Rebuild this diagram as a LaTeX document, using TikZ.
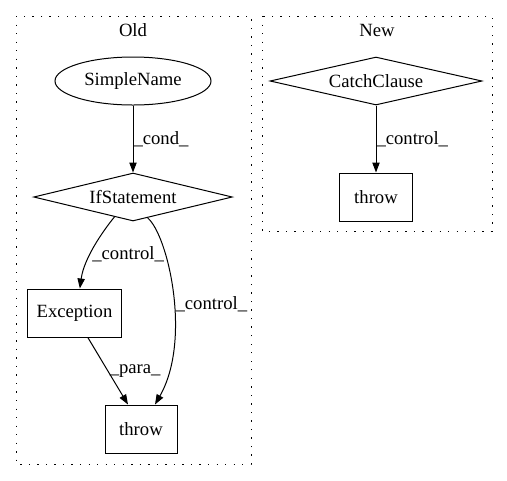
\documentclass[tikz,border=0pt]{standalone}
\usepackage{fontspec}
\setmainfont{Liberation Serif}
\usetikzlibrary{shapes.geometric,arrows.meta}

\tikzset{every picture/.style={line width=0.75pt}}
\tikzset{
  cluster/.style={draw, dash pattern=on 1pt off 5.4pt, line width=0.75pt},
  stmtbox/.style={draw, rectangle, minimum height=36pt, inner sep=0pt},
  condnode/.style={draw, diamond, minimum height=36pt, inner sep=0pt},
  namenode/.style={draw, ellipse, minimum width=117pt, minimum height=36pt, inner sep=0pt},
  edge/.style={-{Triangle[length=7.5pt,width=5.5pt]}},
  elabel/.style={inner sep=1pt},
  every node/.append style={font=\fontsize{14}{16}\selectfont}
}

\begin{document}
\begin{tikzpicture}[x=0.75pt,y=0.75pt,yscale=-1,xscale=1]
	\useasboundingbox (0,0) rectangle (507,480);
	
	%Shape: Cluster Old
	\draw [cluster] (16,16) rectangle (251,464);
	%Shape: Cluster New
	\draw [cluster] (262,16) rectangle (492,231);
	
	% Text Node
	\node (oldlbl) at (133,30) {Old};
	% Text Node
	\node (newlbl) at (377,30) {New};
	
	%Shape: Ellipse
	\node [namenode] (simplename) at (133,81) {SimpleName};
	%Shape: Diamond
	\node [condnode, aspect=4.15, minimum width=149pt] (ifstmt) at (133,197) {IfStatement};
	%Shape: Rectangle
	\node [stmtbox, minimum width=71pt] (exception) at (74.5,313) {Exception};
	%Shape: Rectangle
	\node [stmtbox, minimum width=54pt] (oldthrow) at (141,429) {throw};
	
	%Shape: Diamond
	\node [condnode, aspect=4.4, minimum width=159pt] (catch) at (376,81) {CatchClause};
	%Shape: Rectangle
	\node [stmtbox, minimum width=55pt] (newthrow) at (376,197) {throw};
	
	%Straight Lines
	\draw [edge] (simplename) -- node [elabel, right, inner sep=0pt] {\_cond\_} (ifstmt);
	
	%Curve Lines
	\draw [edge] (ifstmt.227) .. controls (103,231) and (84,258) .. ([xshift=4pt]exception.north)
		node [elabel, right, pos=0.6, xshift=0pt] {\_control\_};
	
	%Curve Lines
	\draw [edge] (ifstmt.305) .. controls (168,235) and (192,340) .. ([xshift=10.5pt]oldthrow.north)
		node [elabel, right, pos=0.55, xshift=0pt] {\_control\_};
	
	%Straight Lines
	\draw [edge] ([xshift=10pt]exception.south) -- node [elabel, right, pos=0.5] {\_para\_} ([xshift=-9.75pt]oldthrow.north);
	
	%Straight Lines
	\draw [edge] (catch) -- node [elabel, right, inner sep=0pt] {\_control\_} (newthrow);
	
\end{tikzpicture}
\end{document}
